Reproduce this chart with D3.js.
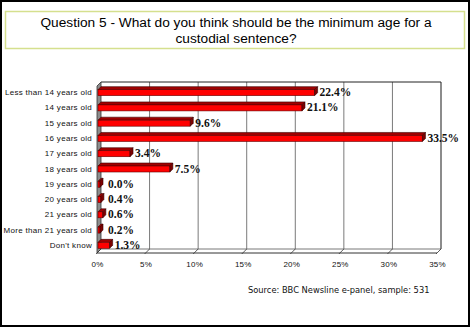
<!DOCTYPE html>
<html><head><meta charset="utf-8">
<script src="https://cdn.jsdelivr.net/npm/d3@7/dist/d3.min.js"></script>
<style>
html,body{margin:0;padding:0;background:#fff;}
svg{display:block;}
</style></head>
<body>
<svg id="chart" width="470" height="327"></svg>
<script>
const titleLines = ["Question 5 - What do you think should be the minimum age for a", "custodial sentence?"];
const categories = ["Less than 14 years old","14 years old","15 years old","16 years old","17 years old","18 years old","19 years old","20 years old","21 years old","More than 21 years old","Don't know"];
const values = [22.4, 21.1, 9.6, 33.5, 3.4, 7.5, 0.0, 0.4, 0.6, 0.2, 1.3];
const tickValues = [0,5,10,15,20,25,30,35];
const sourceText = "Source: BBC Newsline e-panel, sample: 531";

const svg = d3.select("#chart");
const W = 470, H = 327;

// outer border
svg.append("rect").attr("x",1).attr("y",1).attr("width",W-2).attr("height",H-2)
  .attr("fill","#fff").attr("stroke","#000").attr("stroke-width",2);

// title box
svg.append("rect").attr("x",5.5).attr("y",11.5).attr("width",459).attr("height",37)
  .attr("fill","#fff").attr("stroke","#d5e08e").attr("stroke-width",1.5);
svg.append("g").selectAll("text").data(titleLines).join("text")
  .attr("x",236).attr("y",(d,i)=>27+i*16)
  .attr("text-anchor","middle")
  .attr("font-family","'Liberation Sans', Arial, sans-serif")
  .attr("font-size",13.7).attr("fill","#000").text(d=>d);

// scales
const x = d3.scaleLinear().domain([0,35]).range([97,437]);
const y = d3.scaleBand().domain(categories).range([84,252]);
const dx = 4, dy = 4; // depth offset
const backTop = 82, backBottom = 249, frontBottom = backBottom + dy;

// left side wall
svg.append("path")
  .attr("d",`M${x(0)},${backTop+dy} L${x(0)+dx},${backTop} L${x(0)+dx},${backBottom} L${x(0)},${frontBottom} Z`)
  .attr("fill","#8c8c8c").attr("stroke","#333").attr("stroke-width",0.8);

// back wall gridlines
svg.append("g").selectAll("line").data(tickValues.slice(1)).join("line")
  .attr("x1",d=>x(d)+dx).attr("x2",d=>x(d)+dx)
  .attr("y1",backTop).attr("y2",backBottom)
  .attr("stroke",(d,i)=> i===tickValues.length-2 ? "#666" : "#7a7a7a")
  .attr("stroke-width",(d,i)=> i===tickValues.length-2 ? 1.5 : 1);
// back wall top
svg.append("line").attr("x1",x(0)+dx).attr("x2",x(35)+dx).attr("y1",backTop).attr("y2",backTop)
  .attr("stroke","#222").attr("stroke-width",1);

// floor
svg.append("line").attr("x1",x(0)+dx).attr("x2",x(35)+dx).attr("y1",backBottom).attr("y2",backBottom)
  .attr("stroke","#555").attr("stroke-width",0.8);
svg.append("line").attr("x1",x(0)).attr("x2",x(35)).attr("y1",frontBottom).attr("y2",frontBottom)
  .attr("stroke","#333").attr("stroke-width",1);
svg.append("g").selectAll("line").data(tickValues).join("line")
  .attr("x1",d=>x(d)+dx).attr("y1",backBottom)
  .attr("x2",d=>x(d)-1).attr("y2",frontBottom+1)
  .attr("stroke","#333").attr("stroke-width",0.8);

// bars
const bh = 6, bd = 3;
const bars = svg.append("g").selectAll("g").data(categories).join("g");
bars.each(function(c,i){
  const g = d3.select(this);
  const v = values[i];
  const x0 = x(0)+1, x1 = Math.max(x(v), x0+2);
  const yc = y(c) + y.bandwidth()/2 + 1;
  const yt = yc - bh/2, yb = yc + bh/2;
  g.append("path").attr("d",`M${x0},${yt} L${x0+bd},${yt-bd} L${x1+bd},${yt-bd} L${x1},${yt} Z`)
    .attr("fill","#a00000").attr("stroke","#400000").attr("stroke-width",0.6);
  g.append("rect").attr("x",x0).attr("y",yt).attr("width",x1-x0).attr("height",bh)
    .attr("fill","#ff0000").attr("stroke","#600000").attr("stroke-width",0.6);
  g.append("path").attr("d",`M${x1},${yt} L${x1+bd},${yt-bd} L${x1+bd},${yb-bd} L${x1},${yb} Z`)
    .attr("fill","#800000").attr("stroke","#300000").attr("stroke-width",0.6);
  g.append("text").attr("x",Math.max(x(v)+5, x(0)+11)).attr("y",yc+3.5)
    .attr("font-family","'Liberation Serif', 'Times New Roman', serif")
    .attr("font-weight","bold").attr("font-size",11.5).attr("fill","#111")
    .text(v.toFixed(1)+"%");
});

// category axis labels
svg.append("g").selectAll("text").data(categories).join("text")
  .attr("x",92).attr("y",c=>y(c)+y.bandwidth()/2+3.5)
  .attr("text-anchor","end")
  .attr("font-family","'Liberation Sans', Arial, sans-serif")
  .attr("font-size",8).attr("letter-spacing",0.3).attr("fill","#111").text(d=>d);

// value axis labels
const xAxis = d3.axisBottom(x).tickValues(tickValues).tickSize(0).tickFormat(d=>d+"%");
const ax = svg.append("g").attr("transform",`translate(0,${frontBottom+5})`).call(xAxis);
ax.select(".domain").remove();
ax.selectAll("text").attr("font-family","'Liberation Sans', Arial, sans-serif")
  .attr("font-size",8).attr("letter-spacing",0.2).attr("fill","#111");

// source
svg.append("text").attr("x",248).attr("y",293)
  .attr("font-family","'DejaVu Sans', Verdana, sans-serif")
  .attr("font-size",8.3).attr("fill","#111").text(sourceText);
</script>
</body></html>
